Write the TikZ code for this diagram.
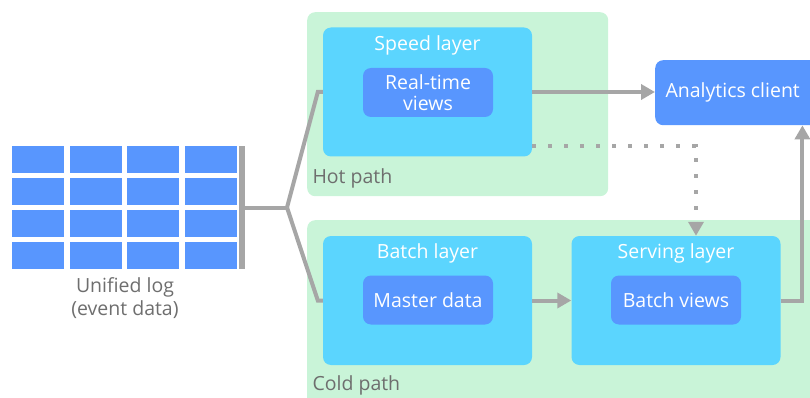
\documentclass[tikz,border=0pt]{standalone}
\usepackage{fontspec}
\setmainfont{Open Sans}
\usetikzlibrary{arrows.meta, positioning}

\definecolor{pathgreen}{HTML}{C9F4D8}
\definecolor{layercyan}{HTML}{5BD5FE}
\definecolor{viewblue}{HTML}{5896FE}
\definecolor{flowgray}{HTML}{A6A6A6}
\definecolor{labelgray}{HTML}{6E6E6E}

\tikzset{
    pathbox/.style={fill=pathgreen, rounded corners=8pt, anchor=north west, inner sep=0pt},
    layerbox/.style={fill=layercyan, rounded corners=8pt, minimum width=209pt, minimum height=129pt, inner sep=0pt},
    viewbox/.style={fill=viewblue, rounded corners=8pt, minimum width=130pt, minimum height=49pt, inner sep=0pt, text=white, align=center, font=\fontsize{19.5}{21}\selectfont},
    cell/.style={fill=viewblue, minimum width=52pt, minimum height=27pt, inner sep=0pt},
    title/.style={text=white, font=\fontsize{19.5}{22}\selectfont},
    pathlabel/.style={text=labelgray, anchor=west, font=\fontsize{19.5}{22}\selectfont},
    flow/.style={draw=flowgray, line width=4pt},
    flowarrow/.style={flow, -{Triangle[width=15pt,length=14pt]}},
    dots/.style={flowarrow, dash pattern=on 4pt off 12pt}
}

\begin{document}
\begin{tikzpicture}[x=1pt, y=-1pt]
    \useasboundingbox (0,0) rectangle (810,398);
    \clip (0,0) rectangle (810,398);

    % green path areas
    \node[pathbox, minimum width=301pt, minimum height=184pt] (hot) at (307,12) {};
    \node[pathbox, minimum width=530pt, minimum height=200pt] (cold) at (307,220) {};
    \node[pathlabel] (hotlbl) at (309,178) {Hot path};
    \node[pathlabel] (coldlbl) at (309,385) {Cold path};

    % layers
    \node[layerbox] (speed) at (427.5,92) {};
    \node[layerbox] (batch) at (427.5,300.5) {};
    \node[layerbox] (serving) at (676,300.5) {};
    \node[title] (speedT) at (427.5,45) {Speed layer};
    \node[title] (batchT) at (427.5,253) {Batch layer};
    \node[title] (servingT) at (676,253) {Serving layer};

    % views
    \node[viewbox] (rtviews) at (428,92.5) {Real-time\\views};
    \node[viewbox] (master) at (428,300) {Master data};
    \node[viewbox] (bviews) at (676,300) {Batch views};

    % client
    \node[fill=viewblue, rounded corners=8pt, anchor=north west, minimum width=165pt, minimum height=65pt,
          inner sep=0pt] (client) at (655,60) {};
    \node[title, anchor=west] (clientT) at (662,92.5) {Analytics client};

    % unified log
    \foreach \r in {0,...,3}
        \foreach \c in {0,...,3}
            \node[cell, anchor=north west] (log\r\c) at (12+\c*57.5, 146+\r*32) {};
    \node[fill=flowgray, minimum width=6pt, minimum height=123pt, inner sep=0pt] (logbar) at (242,207.5) {};
    \node[text=labelgray, align=center, font=\fontsize{19.5}{23}\selectfont] (logtxt) at (125,298) {Unified log\\(event data)};

    % connectors
    \coordinate (split) at (287,207.5);
    \draw[flow] (logbar.east) -- (split);
    \draw[flow] (split) -- ([xshift=-5pt]speed.west) -- (speed.west);
    \draw[flow] (split) -- ([xshift=-5pt]batch.west) -- (batch.west);
    \draw[flowarrow] (speed.east) -- (client.west |- speed.east);
    \draw[flowarrow] (batch.east) -- (serving.west);
    \draw[dots] ([yshift=11pt]speed.south east) -| ([xshift=20pt]serving.north);
    \draw[flowarrow] (serving.east) -| ([xshift=-18pt]client.south east);
\end{tikzpicture}
\end{document}
